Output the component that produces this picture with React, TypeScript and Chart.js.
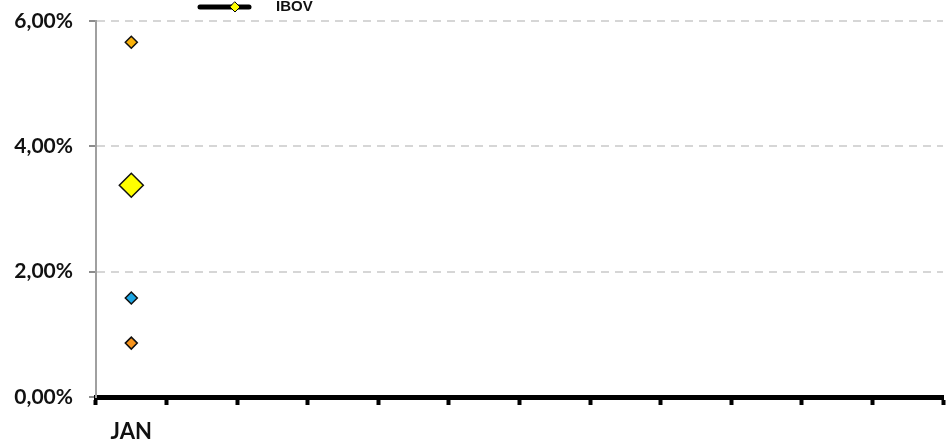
import { useEffect, useRef } from 'react'
import { Chart, registerables } from 'chart.js'

Chart.register(...registerables)

const months = ['JAN', '', '', '', '', '', '', '', '', '', '', '']
const fundoValues = [5.66]
const ibovValues = [3.38]
const ipcaValues = [1.58]
const cdiValues = [0.86]
const yTicks = [0, 2, 4, 6]

const FONT = 'Lato, "Open Sans", sans-serif'

// legend drawn by hand: only IBOV shows in the original
const ibovLegend = {
  id: 'ibovLegend',
  afterDraw(chart: Chart) {
    const ctx = chart.ctx
    ctx.save()
    ctx.strokeStyle = '#000'
    ctx.lineWidth = 5
    ctx.lineCap = 'round'
    ctx.beginPath()
    ctx.moveTo(200, 7)
    ctx.lineTo(249, 7)
    ctx.stroke()
    ctx.fillStyle = '#ffff00'
    ctx.lineWidth = 1
    ctx.beginPath()
    ctx.moveTo(235, 2)
    ctx.lineTo(240, 7)
    ctx.lineTo(235, 12)
    ctx.lineTo(230, 7)
    ctx.closePath()
    ctx.fill()
    ctx.stroke()
    ctx.fillStyle = '#111'
    ctx.font = 'bold 15px "Liberation Sans", Arial, sans-serif'
    ctx.textBaseline = 'middle'
    ctx.fillText('IBOV', 276, 7)
    ctx.restore()
  },
}

export default function App() {
  const chartRef = useRef<HTMLCanvasElement>(null)
  const chartInstance = useRef<Chart | null>(null)

  useEffect(() => {
    if (!chartRef.current) return
    if (chartInstance.current) chartInstance.current.destroy()
    const ctx = chartRef.current.getContext('2d')
    if (!ctx) return

    const point = (color: string, r: number) => ({
      pointStyle: 'rectRot' as const,
      pointRadius: r,
      pointHoverRadius: r,
      pointBackgroundColor: color,
      pointBorderColor: '#111',
      pointBorderWidth: 1.5,
    })

    chartInstance.current = new Chart(ctx, {
      type: 'line',
      data: {
        labels: months,
        datasets: [
          { label: 'Fundo', data: fundoValues, borderColor: '#f7b000', ...point('#f9b10a', 6) },
          { label: 'IBOV', data: ibovValues, borderColor: '#000', borderWidth: 5, ...point('#ffff00', 12) },
          { label: 'IPCA', data: ipcaValues, borderColor: '#1ca6e4', ...point('#1ca6e4', 6) },
          { label: 'CDI', data: cdiValues, borderColor: '#f7941d', ...point('#f7941d', 6) },
        ],
      },
      options: {
        responsive: true,
        maintainAspectRatio: false,
        animation: false,
        layout: { autoPadding: false, padding: { top: 21, right: 3, left: 0, bottom: 0 } },
        plugins: {
          legend: { display: false },
          tooltip: { enabled: false },
        },
        scales: {
          x: {
            offset: true,
            grid: {
              offset: true,
              drawOnChartArea: false,
              tickColor: '#000',
              tickWidth: 4,
              tickLength: 8,
            },
            border: { color: '#000', width: 5 },
            ticks: {
              color: '#111',
              padding: 14,
              autoSkip: false,
              maxRotation: 0,
              font: { family: FONT, size: 22, weight: 'bold' },
            },
            afterFit: (scale) => {
              scale.height = 45
            },
          },
          y: {
            min: 0,
            max: 6,
            afterBuildTicks: (scale) => {
              scale.ticks = yTicks.map((v) => ({ value: v }))
            },
            grid: {
              color: '#d6d6d6',
              lineWidth: 2,
              tickColor: '#8c8c8c',
              tickLength: 7,
              tickWidth: 2,
              tickBorderDash: [],
            },
            border: { color: '#a0a0a0', width: 2, dash: [8, 6] },
            ticks: {
              color: '#111',
              padding: 16,
              font: { family: FONT, size: 21, weight: 'bold' },
              callback: (value) => `${Number(value).toFixed(2).replace('.', ',')}%`,
            },
            afterFit: (scale) => {
              scale.width = 96
              scale.paddingTop = 0
              scale.paddingBottom = 0
            },
          },
        },
      },
      plugins: [ibovLegend],
    })

    return () => {
      if (chartInstance.current) {
        chartInstance.current.destroy()
        chartInstance.current = null
      }
    }
  }, [])

  return (
    <div style={{ position: 'fixed', left: 0, top: 0, width: 946, height: 442, background: '#fff' }}>
      <canvas ref={chartRef} />
    </div>
  )
}
